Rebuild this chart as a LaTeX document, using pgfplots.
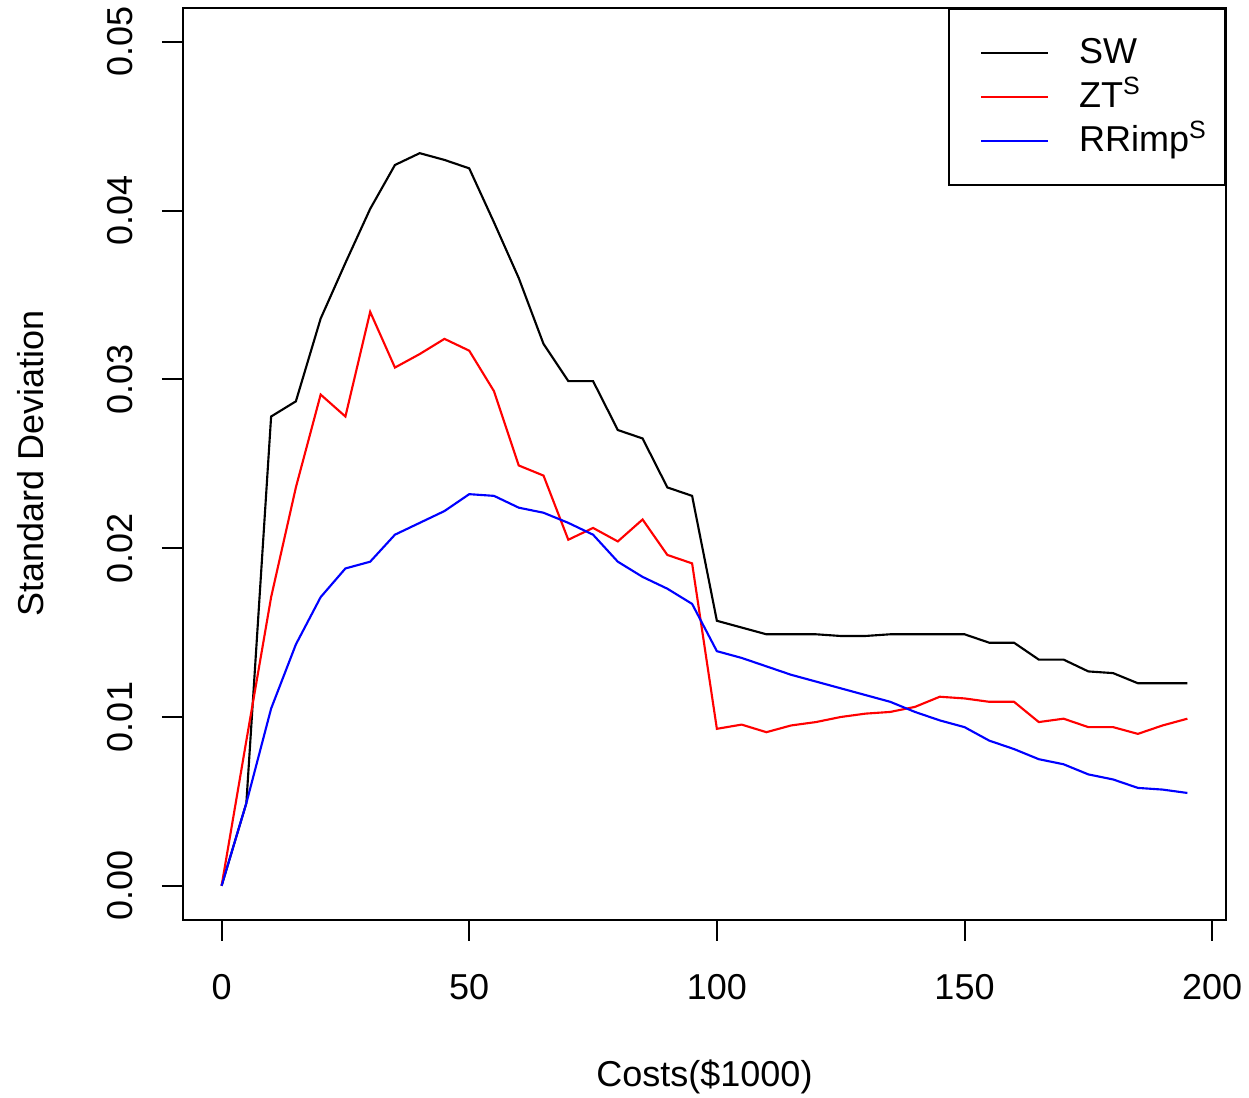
\documentclass[border=0pt]{standalone}
\usepackage{pgfplots}
\pgfplotsset{compat=1.18}
\usepackage{fontspec}
\setmainfont{Liberation Sans}
\begin{document}
\fontsize{14.4pt}{17pt}\selectfont
\begin{tikzpicture}
\begin{axis}[
  name=ax,
  scale only axis,
  width=417.3pt, height=364.7pt,
  xmin=-7.8, xmax=202.8,
  ymin=-0.002, ymax=0.052,
  axis line style={line width=0.8pt},
  every tick/.style={black, line width=0.8pt},
  tick align=outside,
  major tick length=8.4pt,
  xtick={0,50,100,150,200},
  ytick={0,0.01,0.02,0.03,0.04,0.05},
  xtick pos=bottom, ytick pos=left,
  scaled y ticks=false,
  /pgf/number format/assume math mode=true,
  yticklabel={\pgfmathprintnumber[fixed,fixed zerofill,precision=2]{\tick}},
  xticklabel style={font=\fontsize{14.4pt}{17pt}\selectfont},
  yticklabel style={font=\fontsize{14.4pt}{17pt}\selectfont, rotate=90},
  xticklabel shift=8.4pt,
  yticklabel shift=6.8pt,
  xlabel={Costs(\$1000)},
  ylabel={Standard Deviation},
  xlabel style={font=\fontsize{14.4pt}{17pt}\selectfont, at={(axis description cs:0.5,0)}, anchor=center, yshift=-63pt},
  ylabel style={font=\fontsize{14.4pt}{17pt}\selectfont, at={(axis description cs:0,0.5)}, anchor=center, yshift=61pt},
  legend style={at={(1,1)}, anchor=north east, draw=black, line width=0.8pt,
    inner xsep=7.2pt, inner ysep=8.9pt,
    font=\fontsize{14.4pt}{17pt}\selectfont,
    nodes={inner sep=0pt, text height=13pt, text depth=4.6pt},
    row sep=0pt},
  legend cell align=left,
  legend image code/.code={\path[draw=none, fill=none] (0pt,0pt) rectangle (44.8pt,0.1pt); \draw[#1, line width=0.8pt] (5.6pt,0pt) -- (32.4pt,0pt);},
]
\addplot[black, line width=0.85pt] coordinates {
(0,0) (5,0.0049) (10,0.0278) (15,0.0287) (20,0.0336) (25,0.0369) (30,0.0401) (35,0.0427) (40,0.0434) (45,0.0430)
(50,0.0425) (55,0.0393) (60,0.0360) (65,0.0321) (70,0.0299) (75,0.0299) (80,0.0270) (85,0.0265) (90,0.0236) (95,0.0231)
(100,0.0157) (105,0.0153) (110,0.0149) (115,0.0149) (120,0.0149) (125,0.0148) (130,0.0148) (135,0.0149) (140,0.0149) (145,0.0149)
(150,0.0149) (155,0.0144) (160,0.0144) (165,0.0134) (170,0.0134) (175,0.0127) (180,0.0126) (185,0.0120) (190,0.0120) (195,0.0120)
};
\addlegendentry{SW}
\addplot[red, line width=0.85pt] coordinates {
(0,0) (5,0.0086) (10,0.0171) (15,0.0236) (20,0.0291) (25,0.0278) (30,0.0340) (35,0.0307) (40,0.0315) (45,0.0324)
(50,0.0317) (55,0.0293) (60,0.0249) (65,0.0243) (70,0.0205) (75,0.0212) (80,0.0204) (85,0.0217) (90,0.0196) (95,0.0191)
(100,0.0093) (105,0.00955) (110,0.0091) (115,0.0095) (120,0.0097) (125,0.0100) (130,0.0102) (135,0.0103) (140,0.0106) (145,0.0112)
(150,0.0111) (155,0.0109) (160,0.0109) (165,0.0097) (170,0.0099) (175,0.0094) (180,0.0094) (185,0.0090) (190,0.0095) (195,0.0099)
};
\addlegendentry{ZT\textsuperscript{S}}
\addplot[blue, line width=0.85pt] coordinates {
(0,0) (5,0.0049) (10,0.0105) (15,0.0143) (20,0.0171) (25,0.0188) (30,0.0192) (35,0.0208) (40,0.0215) (45,0.0222)
(50,0.0232) (55,0.0231) (60,0.0224) (65,0.0221) (70,0.0215) (75,0.0208) (80,0.0192) (85,0.0183) (90,0.0176) (95,0.0167)
(100,0.0139) (105,0.0135) (110,0.0130) (115,0.0125) (120,0.0121) (125,0.0117) (130,0.0113) (135,0.0109) (140,0.0103) (145,0.0098)
(150,0.0094) (155,0.0086) (160,0.0081) (165,0.0075) (170,0.0072) (175,0.0066) (180,0.0063) (185,0.0058) (190,0.0057) (195,0.0055)
};
\addlegendentry{RRimp\textsuperscript{S}}
\end{axis}
\pgfresetboundingbox
\path ([xshift=-73.2pt, yshift=-71.2pt]ax.south west) rectangle ([xshift=9.2pt, yshift=3.2pt]ax.north east);
\end{tikzpicture}
\end{document}
